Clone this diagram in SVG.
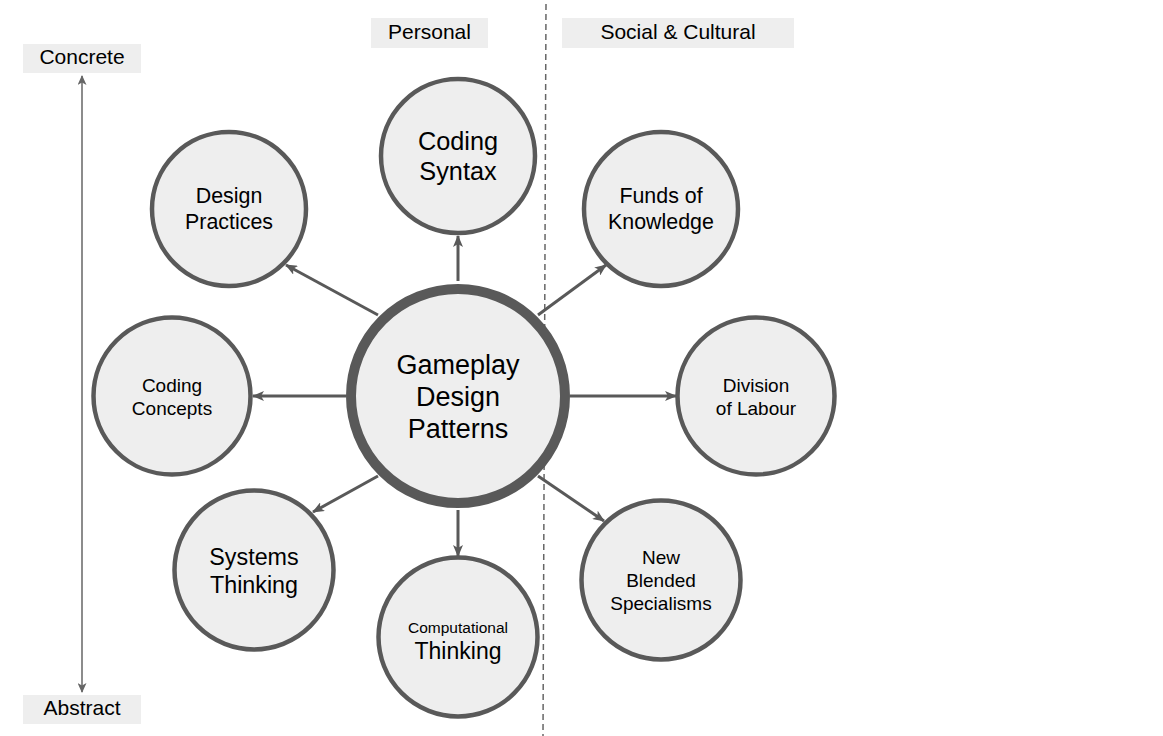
<svg xmlns="http://www.w3.org/2000/svg" width="1163" height="736" viewBox="0 0 1163 736">
<style>
.n{fill:#eeeeee;stroke:#595959;stroke-width:4.5}
.c{fill:#eeeeee;stroke:#595959;stroke-width:10}
.t{font-family:"Liberation Sans",Arial,sans-serif;fill:#000;text-anchor:middle;dominant-baseline:central}
.lb{fill:#eeeeee}
.e{stroke:#595959;stroke-width:3;fill:none;marker-end:url(#ah)}
</style>
<defs>
<marker id="ah" viewBox="0 0 12 10" refX="11" refY="5" markerWidth="12" markerHeight="10" markerUnits="userSpaceOnUse" orient="auto-start-reverse">
<path d="M0,0 L12,5 L0,10 L3,5 Z" fill="#595959"/>
</marker>
<marker id="ah2" viewBox="0 0 10 9" refX="9" refY="4.5" markerWidth="10" markerHeight="9" markerUnits="userSpaceOnUse" orient="auto-start-reverse">
<path d="M0,0 L10,4.5 L0,9 L2.5,4.5 Z" fill="#666666"/>
</marker>
</defs>
<rect width="1163" height="736" fill="#ffffff"/>
<g id="divider">
<line x1="546" y1="4" x2="543" y2="736" stroke="#666666" stroke-width="1.5" stroke-dasharray="6,4"/>
</g>
<g id="labels">
<g id="concrete"><rect class="lb" x="23" y="44" width="118" height="29"/><text class="t" x="82" y="56" font-size="21">Concrete</text></g>
<g id="abstract"><rect class="lb" x="23" y="695" width="118" height="29"/><text class="t" x="82" y="707" font-size="21">Abstract</text></g>
<g id="personal"><rect class="lb" x="371" y="18" width="117" height="30"/><text class="t" x="429.5" y="31" font-size="21">Personal</text></g>
<g id="social"><rect class="lb" x="562" y="18" width="232" height="30"/><text class="t" x="678" y="31" font-size="21">Social &amp; Cultural</text></g>
</g>
<g id="connectors">
<line x1="82" y1="692" x2="82" y2="76" stroke="#666666" stroke-width="1.5" marker-start="url(#ah2)" marker-end="url(#ah2)"/>
<line class="e" x1="458" y1="281" x2="458" y2="236"/>
<line class="e" x1="378" y1="315" x2="286" y2="265"/>
<line class="e" x1="538" y1="315" x2="606" y2="265"/>
<line class="e" x1="346" y1="396" x2="253" y2="396"/>
<line class="e" x1="570" y1="396" x2="676" y2="396"/>
<line class="e" x1="378" y1="476" x2="313" y2="512"/>
<line class="e" x1="458" y1="510" x2="458" y2="556"/>
<line class="e" x1="538" y1="476" x2="604" y2="521"/>
</g>
<g id="center"><circle class="c" cx="458" cy="396" r="107"/>
<text class="t" font-size="27"><tspan x="458" y="365">Gameplay</tspan><tspan x="458" y="397">Design</tspan><tspan x="458" y="429">Patterns</tspan></text></g>
<g id="coding-syntax"><circle class="n" cx="458" cy="156" r="77"/>
<text class="t" font-size="25.3"><tspan x="458" y="141">Coding</tspan><tspan x="458" y="171">Syntax</tspan></text></g>
<g id="design-practices"><circle class="n" cx="229" cy="209" r="77"/>
<text class="t" font-size="21.4"><tspan x="229" y="196">Design</tspan><tspan x="229" y="222">Practices</tspan></text></g>
<g id="funds-of-knowledge"><circle class="n" cx="661" cy="209" r="77"/>
<text class="t" font-size="21.4"><tspan x="661" y="196">Funds of</tspan><tspan x="661" y="222">Knowledge</tspan></text></g>
<g id="coding-concepts"><circle class="n" cx="172" cy="396" r="78.5"/>
<text class="t" font-size="19"><tspan x="172" y="385">Coding</tspan><tspan x="172" y="408">Concepts</tspan></text></g>
<g id="division-of-labour"><circle class="n" cx="756" cy="396" r="78.5"/>
<text class="t" font-size="19"><tspan x="756" y="385">Division</tspan><tspan x="756" y="408">of Labour</tspan></text></g>
<g id="systems-thinking"><circle class="n" cx="254" cy="570" r="79.5"/>
<text class="t" font-size="23.3"><tspan x="254" y="557">Systems</tspan><tspan x="254" y="585">Thinking</tspan></text></g>
<g id="computational-thinking"><circle class="n" cx="458" cy="637" r="79.5"/>
<text class="t"><tspan x="458" y="627" font-size="15.5">Computational</tspan><tspan x="458" y="651" font-size="23">Thinking</tspan></text></g>
<g id="new-blended-specialisms"><circle class="n" cx="661" cy="580" r="79.5"/>
<text class="t" font-size="19"><tspan x="661" y="557">New</tspan><tspan x="661" y="580">Blended</tspan><tspan x="661" y="603">Specialisms</tspan></text></g>
</svg>
